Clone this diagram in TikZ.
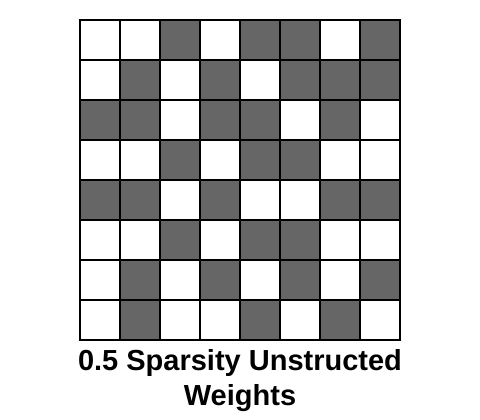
\documentclass[tikz,border=0pt]{standalone}
\usepackage{fontspec}
\setmainfont{Liberation Sans}
\definecolor{cellgray}{RGB}{102,102,102}
\tikzset{
  cell/.style={draw=black, line width=2pt},
  dark/.style={cell, fill=cellgray},
  light/.style={cell, fill=white},
  caption/.style={font=\bfseries\fontsize{29}{35}\selectfont, align=center, inner sep=0pt}
}
\begin{document}
\begin{tikzpicture}[x=1pt,y=-1pt]
\useasboundingbox (0,0) rectangle (480,420);
\foreach \v [count=\i from 0] in {
  0,0,1,0,1,1,0,1,
  0,1,0,1,0,1,1,1,
  1,1,0,1,1,0,1,0,
  0,0,1,0,1,1,0,0,
  1,1,0,1,0,0,1,1,
  0,0,1,0,1,1,0,0,
  0,1,0,1,0,1,0,1,
  0,1,0,0,1,0,1,0}{
  \pgfmathtruncatemacro{\c}{mod(\i,8)}
  \pgfmathtruncatemacro{\r}{div(\i,8)}
  \ifnum\v=1
    \draw[dark] ({80+40*\c},{20+40*\r}) rectangle +(40,40);
  \else
    \draw[light] ({80+40*\c},{20+40*\r}) rectangle +(40,40);
  \fi
}
\node[caption] (title) at (240,381) {0.5 Sparsity Unstructed\\Weights};
\end{tikzpicture}
\end{document}
